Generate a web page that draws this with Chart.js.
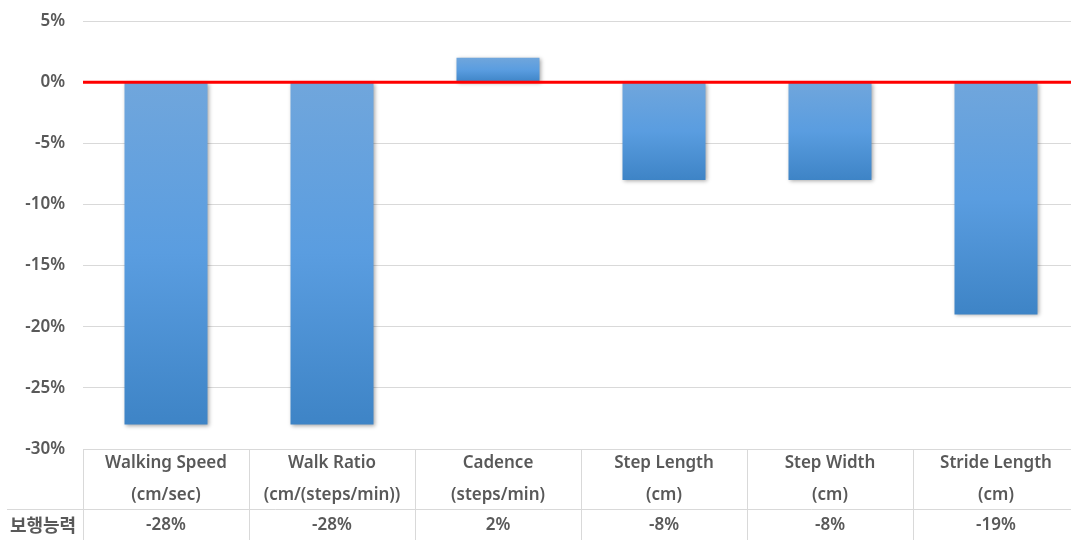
<!DOCTYPE html>
<html>
<head>
<meta charset="utf-8">
<script src="https://cdn.jsdelivr.net/npm/chart.js@4"></script>
<style>
html,body{margin:0;padding:0;background:#fff;overflow:hidden;}
#wrap{width:1071px;height:540px;overflow:hidden;position:relative;}
#box{width:1080px;height:540px;position:absolute;left:0;top:0;}
</style>
</head>
<body>
<div id="wrap"><div id="box"><canvas id="c"></canvas></div></div>
<script>
const categories = [
  ["Walking Speed", "(cm/sec)"],
  ["Walk Ratio", "(cm/(steps/min))"],
  ["Cadence", "(steps/min)"],
  ["Step Length", "(cm)"],
  ["Step Width", "(cm)"],
  ["Stride Length", "(cm)"]
];
const values = [-28, -28, 2, -8, -8, -19];
const rowLabel = "보행능력";
const yTicks = [5, 0, -5, -10, -15, -20, -25, -30];

const FONT = '"Noto Sans", "Noto Sans CJK KR", sans-serif';
const TXT = '#595959';
const GRID = '#d9d9d9';

function barFill(ctx) {
  const chart = ctx.chart;
  const ys = chart.scales.y;
  if (!ys || ctx.parsed === undefined) return '#5b9bd5';
  const a = ys.getPixelForValue(0), b = ys.getPixelForValue(ctx.parsed.y);
  const top = Math.min(a, b), bot = Math.max(a, b);
  if (!isFinite(top) || bot - top < 1) return '#5b9bd5';
  const g = chart.ctx.createLinearGradient(0, top, 0, bot);
  g.addColorStop(0, '#70a6dc');
  g.addColorStop(0.5, '#5a9de0');
  g.addColorStop(1, '#3e84c6');
  return g;
}

const shadowPlugin = {
  id: 'shadow',
  beforeDatasetsDraw(chart) {
    const c = chart.ctx;
    c.save();
    c.shadowColor = 'rgba(0,0,0,0.35)';
    c.shadowBlur = 4;
    c.shadowOffsetX = 1;
    c.shadowOffsetY = 1;
  },
  afterDatasetsDraw(chart) {
    chart.ctx.restore();
    const c = chart.ctx, ys = chart.scales.y, a = chart.chartArea;
    const y0 = ys.getPixelForValue(0);
    c.save();
    c.strokeStyle = '#ff0000';
    c.lineWidth = 3;
    c.beginPath();
    c.moveTo(a.left, y0);
    c.lineTo(chart.width, y0);
    c.stroke();
    c.restore();
  }
};

const tablePlugin = {
  id: 'table',
  afterDraw(chart) {
    const c = chart.ctx, xs = chart.scales.x, a = chart.chartArea;
    const n = categories.length;
    const step = (a.right - a.left) / n;
    c.save();
    c.strokeStyle = GRID;
    c.lineWidth = 1;
    for (let i = 0; i <= n; i++) {
      const x = Math.round(a.left + step * i) + 0.5;
      c.beginPath();
      c.moveTo(x, a.bottom);
      c.lineTo(x, chart.height);
      c.stroke();
    }
    c.beginPath();
    c.moveTo(7, 509.5);
    c.lineTo(chart.width, 509.5);
    c.stroke();
    c.fillStyle = TXT;
    c.textBaseline = 'middle';
    c.textAlign = 'center';
    c.font = '600 17px ' + FONT;
    values.forEach((v, i) => {
      c.fillText(v + '%', xs.getPixelForValue(i), 525);
    });
    c.font = 'bold 18px "Noto Sans CJK KR", sans-serif';
    c.fillText(rowLabel, 43, 525);
    c.restore();
  }
};

new Chart(document.getElementById('c'), {
  type: 'bar',
  data: {
    labels: categories,
    datasets: [{
      data: values,
      backgroundColor: barFill,
      borderWidth: 0,
      barPercentage: 0.5,
      categoryPercentage: 1.0
    }]
  },
  options: {
    responsive: true,
    maintainAspectRatio: false,
    animation: false,
    layout: { padding: { top: 21, right: 1, left: 0, bottom: 0 } },
    plugins: { legend: { display: false }, tooltip: { enabled: false } },
    scales: {
      x: {
        grid: { display: false, drawTicks: false },
        border: { display: false },
        ticks: {
          color: TXT,
          font: { family: FONT, size: 17, weight: '600', lineHeight: 1.83 },
          padding: -1,
          maxRotation: 0,
          autoSkip: false
        },
        afterFit(s) { s.height = 91; s.paddingLeft = 0; s.paddingRight = 0; }
      },
      y: {
        min: -30, max: 5,
        afterBuildTicks(s) { s.ticks = yTicks.map(v => ({ value: v })); },
        grid: { color: GRID, lineWidth: 1, drawTicks: false },
        border: { display: false },
        ticks: {
          color: TXT,
          font: { family: FONT, size: 17, weight: '600' },
          padding: 18,
          callback: v => v + '%'
        },
        afterFit(s) { s.width = 83; s.paddingTop = 0; s.paddingBottom = 0; }
      }
    }
  },
  plugins: [shadowPlugin, tablePlugin]
});
</script>
</body>
</html>
